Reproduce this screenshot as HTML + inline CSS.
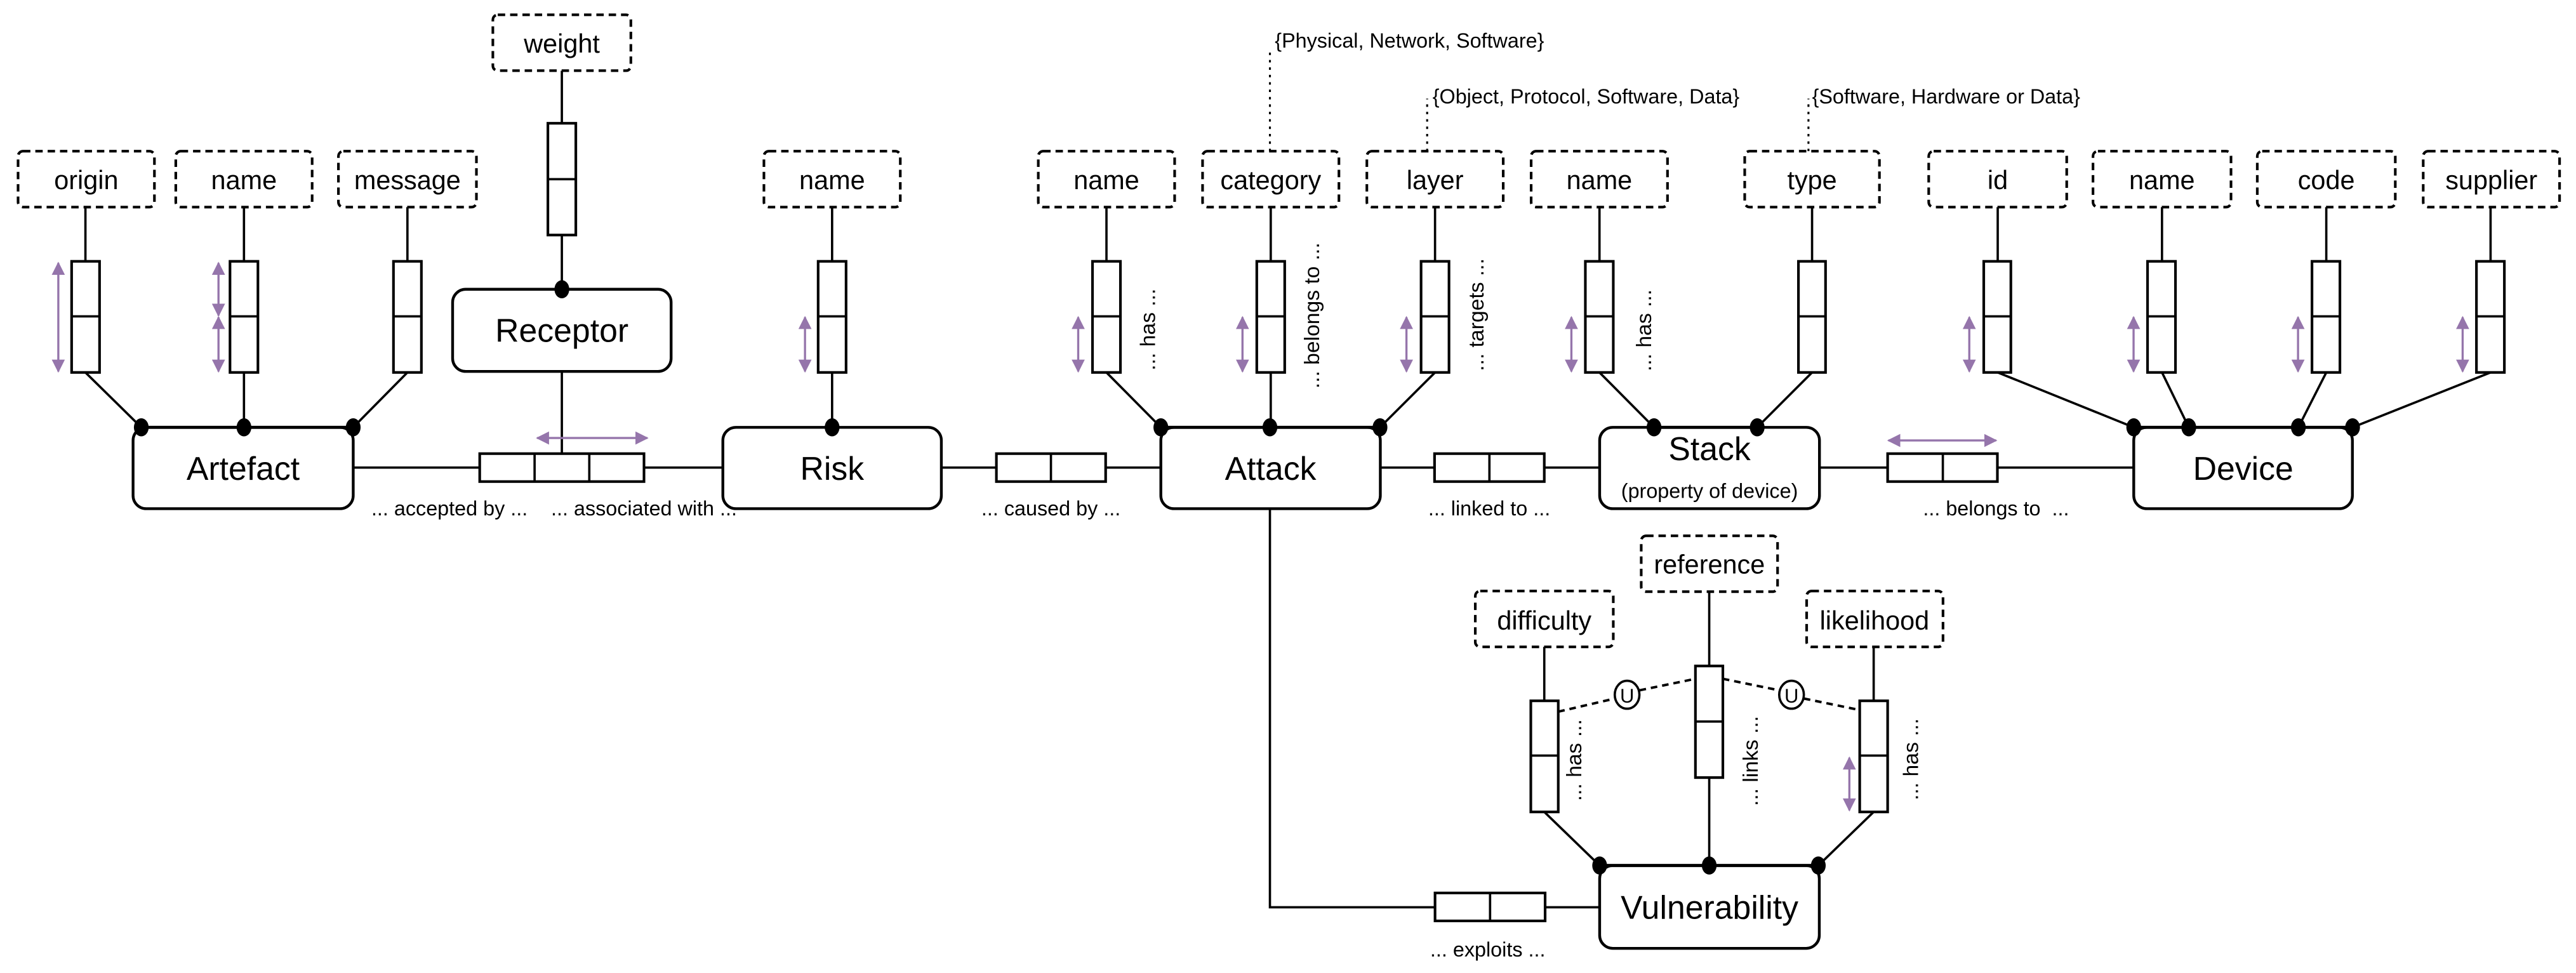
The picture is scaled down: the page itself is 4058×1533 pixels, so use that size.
<!DOCTYPE html>
<html><head><meta charset="utf-8"><style>
html,body{margin:0;padding:0;background:#fff}
svg{display:block}
text{font-family:"Liberation Sans",Arial,sans-serif;fill:#000}
.at{font-size:16px;text-anchor:middle}
.en{font-size:20px;text-anchor:middle}
.lb{font-size:12.5px;text-anchor:middle}
.rl{font-size:13px;text-anchor:middle}
.ab{fill:#fff;stroke:#000;stroke-width:1.6;stroke-dasharray:4.5 3}
.r{fill:#fff;stroke:#000;stroke-width:1.6}
.e{fill:#fff;stroke:#000;stroke-width:1.7}
.l{stroke:#000;stroke-width:1.4;fill:none}
.pa{stroke:#9575ab;stroke-width:1.3;fill:none;marker-start:url(#ah);marker-end:url(#ah)}
.dot{fill:#000}
</style></head><body>
<svg width="4058" height="1533" viewBox="0 0 1568 592" preserveAspectRatio="none" xmlns="http://www.w3.org/2000/svg">
<defs>
<marker id="ah" viewBox="0 0 10 10" refX="9" refY="5" markerWidth="8" markerHeight="8" orient="auto-start-reverse" markerUnits="userSpaceOnUse"><path d="M0,0 L10,5 L0,10 z" fill="#9575ab"/></marker>
</defs>

<path d="M773,92 V31 M868.7,92 V60 M1100.8,92 V60" stroke="#000" stroke-width="1.2" stroke-dasharray="1.5 3" fill="none"/>
<text x="776" y="29" style="font-size:12.5px">{Physical, Network, Software}</text>
<text x="872" y="63" style="font-size:12.5px">{Object, Protocol, Software, Data}</text>
<text x="1103" y="63" style="font-size:12.5px">{Software, Hardware or Data}</text>

<g class="l">
<path d="M52,126 V159 M52,226.6 L86,260"/>
<path d="M148.5,126 V159 M148.5,226.6 V260"/>
<path d="M248,126 V159 M248,226.6 L215,260"/>
<path d="M342,43 V75 M342,143 V176 M342,226 V276"/>
<path d="M506.5,126 V159 M506.5,226.6 V260"/>
<path d="M673.5,126 V159 M673.5,226.6 L706.6,260"/>
<path d="M773.5,126 V159 M773.5,226.6 V260"/>
<path d="M873.5,126 V159 M873.5,226.6 L840,260"/>
<path d="M973.6,126 V159 M973.6,226.6 L1006.8,260"/>
<path d="M1103,126 V159 M1103,226.6 L1069.6,260"/>
<path d="M1216,126 V159 M1216,226.6 L1298.8,260"/>
<path d="M1316,126 V159 M1316,226.6 L1332.3,260"/>
<path d="M1416,126 V159 M1416,226.6 L1399,260"/>
<path d="M1516,126 V159 M1516,226.6 L1432,260"/>
<path d="M940,393.5 V426.4 M940,494 L973.7,526.6"/>
<path d="M1040.4,360 V405.2 M1040.4,473 V526.6"/>
<path d="M1140.5,393.5 V426.4 M1140.5,494 L1106.8,526.6"/>
<path d="M215,284.5 H292 M392,284.5 H440 M573,284.5 H606.5 M673,284.5 H706.6 M840,284.5 H873 M940,284.5 H973.7 M1107.5,284.5 H1149 M1215.8,284.5 H1298.8"/>
<path d="M773,309.5 V552 H873.5 M940.5,552 H973.7"/>
</g>

<g stroke="#000" stroke-width="1.5" stroke-dasharray="4 3" fill="none">
<path d="M948.5,433 L983,425 M998,420 L1032,413"/>
<path d="M1048.7,413 L1083,420 M1098,425 L1132,432"/>
</g>
<g>
<ellipse cx="990.4" cy="422.7" rx="7.5" ry="8.5" fill="#fff" stroke="#000" stroke-width="1.4"/>
<text x="990.4" y="427.5" style="font-size:12px;text-anchor:middle">U</text>
<ellipse cx="1090.5" cy="422.7" rx="7.5" ry="8.5" fill="#fff" stroke="#000" stroke-width="1.4"/>
<text x="1090.5" y="427.5" style="font-size:12px;text-anchor:middle">U</text>
</g>

<g>
<rect class="ab" x="11" y="92" width="83" height="34" rx="3"/><text class="at" x="52.5" y="115">origin</text>
<rect class="ab" x="107" y="92" width="83" height="34" rx="3"/><text class="at" x="148.5" y="115">name</text>
<rect class="ab" x="206" y="92" width="84" height="34" rx="3"/><text class="at" x="248" y="115">message</text>
<rect class="ab" x="300" y="9" width="84" height="34" rx="3"/><text class="at" x="342" y="32">weight</text>
<rect class="ab" x="465" y="92" width="83" height="34" rx="3"/><text class="at" x="506.5" y="115">name</text>
<rect class="ab" x="632" y="92" width="83" height="34" rx="3"/><text class="at" x="673.5" y="115">name</text>
<rect class="ab" x="732" y="92" width="83" height="34" rx="3"/><text class="at" x="773.5" y="115">category</text>
<rect class="ab" x="832" y="92" width="83" height="34" rx="3"/><text class="at" x="873.5" y="115">layer</text>
<rect class="ab" x="932" y="92" width="83" height="34" rx="3"/><text class="at" x="973.5" y="115">name</text>
<rect class="ab" x="1062" y="92" width="82" height="34" rx="3"/><text class="at" x="1103" y="115">type</text>
<rect class="ab" x="1174" y="92" width="84" height="34" rx="3"/><text class="at" x="1216" y="115">id</text>
<rect class="ab" x="1274" y="92" width="84" height="34" rx="3"/><text class="at" x="1316" y="115">name</text>
<rect class="ab" x="1374" y="92" width="84" height="34" rx="3"/><text class="at" x="1416" y="115">code</text>
<rect class="ab" x="1475" y="92" width="83" height="34" rx="3"/><text class="at" x="1516.5" y="115">supplier</text>
<rect class="ab" x="999" y="326" width="83" height="34" rx="3"/><text class="at" x="1040.5" y="349">reference</text>
<rect class="ab" x="898" y="359.6" width="84" height="34" rx="3"/><text class="at" x="940" y="383">difficulty</text>
<rect class="ab" x="1099.7" y="359.6" width="83" height="34" rx="3"/><text class="at" x="1141" y="383">likelihood</text>
</g>

<g>
<rect class="r" x="43.6" y="159" width="17" height="67.6"/><path class="l" d="M43.6,192.5 H60.6"/>
<rect class="r" x="140" y="159" width="17" height="67.6"/><path class="l" d="M140,192.5 H157"/>
<rect class="r" x="239.5" y="159" width="17" height="67.6"/><path class="l" d="M239.5,192.5 H256.5"/>
<rect class="r" x="333.5" y="75" width="17" height="68"/><path class="l" d="M333.5,109 H350.5"/>
<rect class="r" x="498" y="159" width="17" height="67.6"/><path class="l" d="M498,192.5 H515"/>
<rect class="r" x="665" y="159" width="17" height="67.6"/><path class="l" d="M665,192.5 H682"/>
<rect class="r" x="765" y="159" width="17" height="67.6"/><path class="l" d="M765,192.5 H782"/>
<rect class="r" x="865" y="159" width="17" height="67.6"/><path class="l" d="M865,192.5 H882"/>
<rect class="r" x="965" y="159" width="17" height="67.6"/><path class="l" d="M965,192.5 H982"/>
<rect class="r" x="1094.7" y="159" width="16.5" height="67.6"/><path class="l" d="M1094.7,192.5 H1111.2"/>
<rect class="r" x="1207.5" y="159" width="16.5" height="67.6"/><path class="l" d="M1207.5,192.5 H1224"/>
<rect class="r" x="1307.2" y="159" width="17" height="67.6"/><path class="l" d="M1307.2,192.5 H1324.2"/>
<rect class="r" x="1407.3" y="159" width="17" height="67.6"/><path class="l" d="M1407.3,192.5 H1424.3"/>
<rect class="r" x="1507.4" y="159" width="17" height="67.6"/><path class="l" d="M1507.4,192.5 H1524.4"/>
<rect class="r" x="931.8" y="426.4" width="16.7" height="67.6"/><path class="l" d="M931.8,459.7 H948.5"/>
<rect class="r" x="1032" y="405.2" width="16.7" height="67.9"/><path class="l" d="M1032,439 H1048.7"/>
<rect class="r" x="1132" y="426.4" width="17" height="67.6"/><path class="l" d="M1132,459.7 H1149"/>
</g>

<g>
<rect class="r" x="292" y="276" width="100" height="17"/><path class="l" d="M325.4,276 V293 M358.7,276 V293"/>
<rect class="r" x="606.5" y="276" width="66.5" height="17"/><path class="l" d="M639.7,276 V293"/>
<rect class="r" x="873.2" y="276" width="66.8" height="17"/><path class="l" d="M906.6,276 V293"/>
<rect class="r" x="1149" y="276" width="66.8" height="17"/><path class="l" d="M1182.6,276 V293"/>
<rect class="r" x="873.5" y="543.3" width="67" height="17"/><path class="l" d="M907,543.3 V560.3"/>
</g>

<g>
<rect class="e" x="81" y="260" width="134" height="49.5" rx="8"/><text class="en" x="148" y="292">Artefact</text>
<rect class="e" x="275.5" y="176" width="133" height="50" rx="8"/><text class="en" x="342" y="208">Receptor</text>
<rect class="e" x="440" y="260" width="133" height="49.5" rx="8"/><text class="en" x="506.5" y="292">Risk</text>
<rect class="e" x="706.6" y="260" width="133.6" height="49.5" rx="8"/><text class="en" x="773.4" y="292">Attack</text>
<rect class="e" x="973.7" y="260" width="133.8" height="49.5" rx="8"/><text class="en" x="1040.6" y="280">Stack</text>
<text x="1040.6" y="303" style="font-size:12.5px;text-anchor:middle">(property of device)</text>
<rect class="e" x="1298.8" y="260" width="133.1" height="49.5" rx="8"/><text class="en" x="1365.4" y="292">Device</text>
<rect class="e" x="973.7" y="526.6" width="133.7" height="50.4" rx="8"/><text class="en" x="1040.6" y="559">Vulnerability</text>
<path d="M86,260 H215 M706.6,260 H840 M1006.8,260 H1069.6 M1298.8,260 H1432 M973.7,526.6 H1106.8" stroke="#000" stroke-width="1.9"/>
</g>

<g class="dot">
<ellipse cx="86" cy="260" rx="4.5" ry="5.5"/><ellipse cx="148.5" cy="260" rx="4.5" ry="5.5"/><ellipse cx="215" cy="260" rx="4.5" ry="5.5"/>
<ellipse cx="342" cy="176" rx="4.5" ry="5.5"/>
<ellipse cx="506.5" cy="260" rx="4.5" ry="5.5"/>
<ellipse cx="706.6" cy="260" rx="4.5" ry="5.5"/><ellipse cx="773" cy="260" rx="4.5" ry="5.5"/><ellipse cx="840" cy="260" rx="4.5" ry="5.5"/>
<ellipse cx="1006.8" cy="260" rx="4.5" ry="5.5"/><ellipse cx="1069.6" cy="260" rx="4.5" ry="5.5"/>
<ellipse cx="1298.8" cy="260" rx="4.5" ry="5.5"/><ellipse cx="1332.3" cy="260" rx="4.5" ry="5.5"/><ellipse cx="1399" cy="260" rx="4.5" ry="5.5"/><ellipse cx="1432" cy="260" rx="4.5" ry="5.5"/>
<ellipse cx="973.7" cy="526.6" rx="4.5" ry="5.5"/><ellipse cx="1040.4" cy="526.6" rx="4.5" ry="5.5"/><ellipse cx="1106.8" cy="526.6" rx="4.5" ry="5.5"/>
</g>

<g>
<path class="pa" d="M35.5,160 V226"/>
<path class="pa" d="M133,160 V192"/>
<path class="pa" d="M133,193 V226"/>
<path class="pa" d="M490,193 V226"/>
<path class="pa" d="M656.3,193 V226"/><path class="pa" d="M756.3,193 V226"/><path class="pa" d="M856.1,193 V226"/><path class="pa" d="M956.5,193 V226"/>
<path class="pa" d="M1198.7,193 V226"/><path class="pa" d="M1298.7,193 V226"/><path class="pa" d="M1398.8,193 V226"/><path class="pa" d="M1499,193 V226"/>
<path class="pa" d="M1125.7,461 V493"/>
<path class="pa" d="M327,266.5 H394"/>
<path class="pa" d="M1149.5,268 H1215"/>
</g>

<text class="lb" x="273.6" y="313.5">... accepted by ...</text>
<text class="lb" x="392" y="313.5">... associated with ...</text>
<text class="lb" x="639.7" y="313.5">... caused by ...</text>
<text class="lb" x="906.5" y="313.5">... linked to ...</text>
<text class="lb" x="1215" y="313.5">... belongs to &#160;...</text>
<text class="lb" x="905.6" y="582">... exploits ...</text>

<text class="rl" transform="translate(703,200.5) rotate(-90)">... has ...</text>
<text class="rl" transform="translate(803,192) rotate(-90)">... belongs to ...</text>
<text class="rl" transform="translate(903,191.5) rotate(-90)">... targets ...</text>
<text class="rl" transform="translate(1005,201) rotate(-90)">... has ...</text>
<text class="rl" transform="translate(962.5,462.5) rotate(-90)">... has ...</text>
<text class="rl" transform="translate(1070,463) rotate(-90)">... links ...</text>
<text class="rl" transform="translate(1167.5,462) rotate(-90)">... has ...</text>
</svg>
</body></html>
